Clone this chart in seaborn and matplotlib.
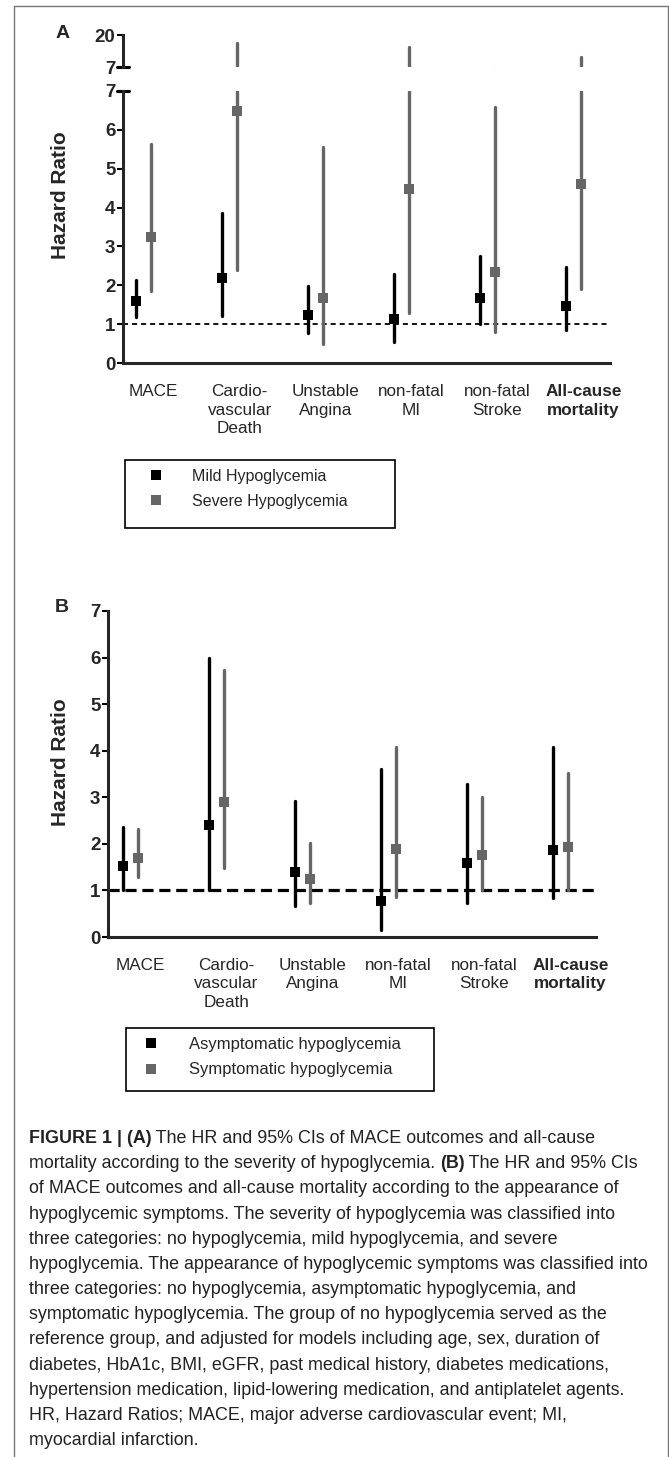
import numpy as np
import pandas as pd
import seaborn as sns
import matplotlib.pyplot as plt
import matplotlib.transforms as mtransforms
from matplotlib.lines import Line2D
from matplotlib.patches import Rectangle

W, H = 669, 1457  # output size in px (dpi 100)

outcomes = ['MACE', 'Cardio-\nvascular\nDeath', 'Unstable\nAngina',
            'non-fatal\nMI', 'non-fatal\nStroke', 'All-cause\nmortality']

# (A) severity of hypoglycemia -- HR, lower / upper 95% CI
mild_hr = [1.60, 2.18, 1.24, 1.13, 1.68, 1.47]
mild_lo = [1.18, 1.21, 0.77, 0.54, 1.00, 0.85]
mild_hi = [2.14, 3.86, 1.98, 2.29, 2.75, 2.47]
severe_hr = [3.24, 6.47, 1.67, 4.47, 2.35, 4.60]
severe_lo = [1.85, 2.39, 0.49, 1.29, 0.80, 1.90]
severe_hi = [5.63, 16.9, 5.55, 15.0, 6.58, 11.2]

# (B) hypoglycemic symptoms
asym_hr = [1.52, 2.40, 1.39, 0.77, 1.58, 1.86]
asym_lo = [1.00, 1.00, 0.66, 0.15, 0.73, 0.84]
asym_hi = [2.36, 6.00, 2.91, 3.60, 3.28, 4.09]
sym_hr = [1.69, 2.89, 1.24, 1.88, 1.76, 1.93]
sym_lo = [1.28, 1.48, 0.73, 0.86, 1.00, 1.00]
sym_hi = [2.31, 5.74, 2.01, 4.09, 3.00, 3.53]

caption = [
    [("FIGURE 1 | (A)", True), (" The HR and 95% CIs of MACE outcomes and all-cause", False)],
    [("mortality according to the severity of hypoglycemia. ", False), ("(B)", True),
     (" The HR and 95% CIs", False)],
    [("of MACE outcomes and all-cause mortality according to the appearance of", False)],
    [("hypoglycemic symptoms. The severity of hypoglycemia was classified into", False)],
    [("three categories: no hypoglycemia, mild hypoglycemia, and severe", False)],
    [("hypoglycemia. The appearance of hypoglycemic symptoms was classified into", False)],
    [("three categories: no hypoglycemia, asymptomatic hypoglycemia, and", False)],
    [("symptomatic hypoglycemia. The group of no hypoglycemia served as the", False)],
    [("reference group, and adjusted for models including age, sex, duration of", False)],
    [("diabetes, HbA1c, BMI, eGFR, past medical history, diabetes medications,", False)],
    [("hypertension medication, lipid-lowering medication, and antiplatelet agents.", False)],
    [("HR, Hazard Ratios; MACE, major adverse cardiovascular event; MI,", False)],
    [("myocardial infarction.", False)],
]


def long_df(groups):
    # three rows per point (lo, hr, hi): median -> HR, full range -> CI
    rows = []
    for name, (hr, lo, hi) in groups.items():
        for i, o in enumerate(outcomes):
            for v in (lo[i], hr[i], hi[i]):
                rows.append({'outcome': o, 'group': name, 'hr': v})
    return pd.DataFrame(rows)


df_a = long_df({'Mild Hypoglycemia': (mild_hr, mild_lo, mild_hi),
                'Severe Hypoglycemia': (severe_hr, severe_lo, severe_hi)})
df_b = long_df({'Asymptomatic hypoglycemia': (asym_hr, asym_lo, asym_hi),
                'Symptomatic hypoglycemia': (sym_hr, sym_lo, sym_hi)})

sns.set_style('ticks')
plt.rcParams['font.family'] = ['Liberation Sans', 'DejaVu Sans']

fig = plt.figure(figsize=(W / 100, H / 100), dpi=100)


def rect(l, t, r, b):
    return [l / W, 1 - b / H, (r - l) / W, (b - t) / H]


ax_top = fig.add_axes(rect(123, 35, 610, 67))
ax_a = fig.add_axes(rect(123, 90.7, 610, 363.3))
ax_b = fig.add_axes(rect(108, 611, 596, 937))

pal = ['black', '#666666']


def draw(ax, df, legend, ms=7.5):
    sns.pointplot(data=df, x='outcome', y='hr', hue='group', estimator='median',
                  errorbar=('pi', 100), dodge=0.169, markers='s', linestyles='none',
                  palette=pal, markersize=ms, markeredgewidth=0,
                  err_kws={'linewidth': 2.4}, legend=legend, ax=ax)


# upper segment of the broken axis only carries the CI tails
draw(ax_top, df_a, False, ms=0)
draw(ax_a, df_a, True)
draw(ax_b, df_b, True)

ax_a.axhline(1, color='black', lw=1.3, ls=(0, (2.8, 2.2)), zorder=0.5)
ax_b.axhline(1, color='black', lw=2.3, ls=(0, (3.5, 1.8)), zorder=0.5)

ax_top.set_ylim(7, 20)
ax_a.set_ylim(0, 7)
ax_b.set_ylim(0, 7)
ax_top.set_xlim(-0.241, 5.427)
ax_a.set_xlim(-0.241, 5.427)
ax_b.set_xlim(-0.262, 5.414)

tick_fs = 13.5
ax_top.set_yticks([7, 20], ['7', '20'], fontweight='bold', fontsize=tick_fs)
for ax in (ax_a, ax_b):
    ax.set_yticks(range(8), [str(i) for i in range(8)], fontweight='bold', fontsize=tick_fs)

shift = mtransforms.ScaledTranslation(0.10, 0, fig.dpi_scale_trans)
for ax in (ax_top, ax_a, ax_b):
    sns.despine(ax=ax)
    ax.set_xlabel('')
    ax.set_ylabel('')
    for s in ('left', 'bottom'):
        ax.spines[s].set_linewidth(2.2)
        ax.spines[s].set_capstyle('projecting')
    ax.tick_params(axis='y', direction='out', length=4, width=1.5, pad=1.5, color='black')
    ax.tick_params(axis='x', length=0, pad=15, labelsize=12.3)
    for t in ax.get_xticklabels():
        t.set_linespacing(1.3)
        t.set_transform(t.get_transform() + shift)
    ax.get_xticklabels()[-1].set_fontweight('bold')

ax_top.spines['bottom'].set_visible(False)
ax_top.set_xticks([])

# break caps on the split axis
dx = 6 / (610 - 123)
ax_top.add_line(Line2D([-dx, dx], [0, 0], transform=ax_top.transAxes, color='black',
                       lw=2.2, clip_on=False))
ax_a.add_line(Line2D([-dx, dx], [1, 1], transform=ax_a.transAxes, color='black',
                     lw=2.2, clip_on=False))

# legends: marker column + text, framed box drawn separately
for ax, (mx, ty), fs, box in ((ax_a, (155.7, 469), 11.5, (125, 460, 395, 528)),
                              (ax_b, (151.5, 1037), 12, (126, 1028, 434, 1091))):
    sns.move_legend(ax, loc='upper left',
                    bbox_to_anchor=((mx - fs * 1.389 / 2) / W, 1 - ty / H),
                    bbox_transform=fig.transFigure, frameon=False, title=None,
                    fontsize=fs, handlelength=1.0, handletextpad=1.75,
                    labelspacing=0.62, borderpad=0, borderaxespad=0, markerscale=1.0)
    l, t, r, b = box
    fig.add_artist(Rectangle((l / W, 1 - b / H), (r - l) / W, (b - t) / H,
                             transform=fig.transFigure, fill=False, ec='black', lw=1.2))

fig.text(63 / W, 1 - 33 / H, 'A', fontsize=14, fontweight='bold', ha='center', va='center')
fig.text(62 / W, 1 - 607 / H, 'B', fontsize=14, fontweight='bold', ha='center', va='center')
fig.text(60 / W, 1 - 195 / H, 'Hazard Ratio', fontsize=15, fontweight='bold',
         rotation=90, ha='center', va='center')
fig.text(60 / W, 1 - 762 / H, 'Hazard Ratio', fontsize=15, fontweight='bold',
         rotation=90, ha='center', va='center')

# outer frame
fc = '#777777'
fig.add_artist(Line2D([14 / W, 14 / W], [0, 1 - 6 / H], color=fc, lw=1.0))
fig.add_artist(Line2D([14 / W, 668 / W], [1 - 6 / H, 1 - 6 / H], color=fc, lw=1.0))
fig.add_artist(Line2D([668 / W, 668 / W], [0, 1 - 6 / H], color=fc, lw=1.0))

# caption with bold runs
cap = fig.add_axes([0, 0, 1, 1])
cap.axis('off')
cap_fs = 12.9
for i, parts in enumerate(caption):
    y = 1 - (1143 + i * 25.17) / H
    prev = None
    for txt, bold in parts:
        kw = dict(fontsize=cap_fs, fontweight='bold' if bold else 'normal', color='#222222')
        if prev is None:
            prev = cap.text(28.6 / W, y, txt, ha='left', va='baseline',
                            transform=cap.transAxes, **kw)
        else:
            prev = cap.annotate(txt, xy=(1, 0), xycoords=prev, ha='left', va='bottom', **kw)

fig.savefig('out.png', dpi=100)
